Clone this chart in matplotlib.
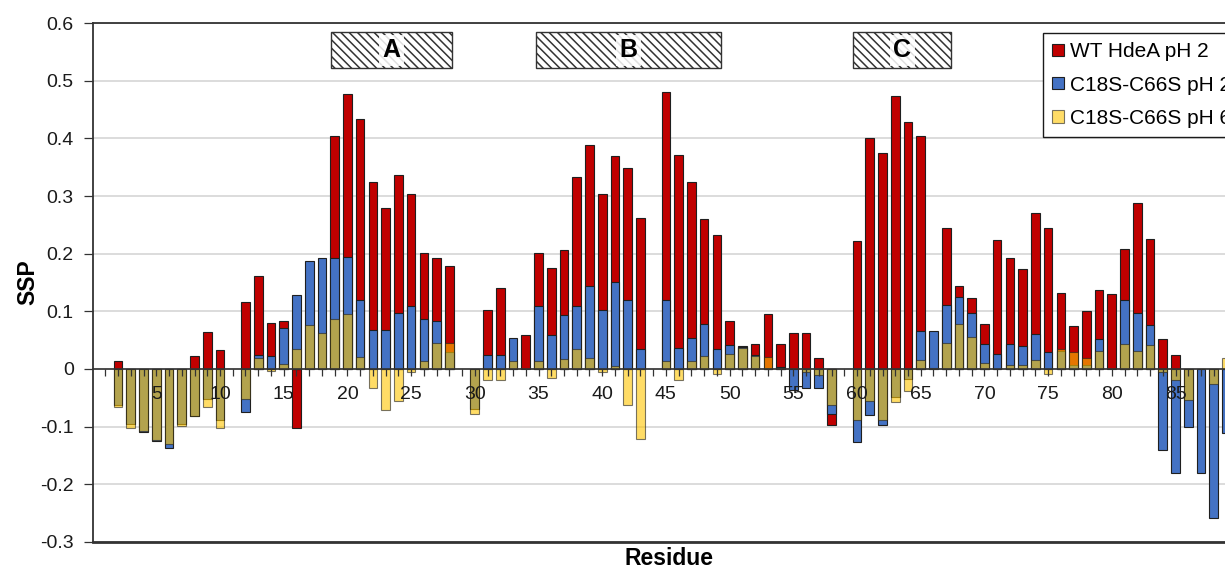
import numpy as np
import matplotlib
matplotlib.use('Agg')
import matplotlib.pyplot as plt
from matplotlib.patches import Rectangle

plt.rcParams['font.family'] = ['Liberation Sans', 'DejaVu Sans']
plt.rcParams['axes.unicode_minus'] = False
plt.rcParams['hatch.linewidth'] = 1.1

nan = np.nan
residues = np.arange(1, 90)

# WT HdeA pH 2
wt_ph2 = [nan, 0.013, nan, nan, nan, nan, nan, 0.0225, 0.064, 0.032,
          nan, 0.117, 0.162, 0.079, 0.083, -0.102, nan, nan, 0.4035, 0.4775,
          0.433, 0.325, 0.2785, 0.337, 0.3045, 0.2005, 0.1925, 0.1785, nan, nan,
          0.102, 0.1405, nan, 0.0595, 0.201, 0.175, 0.206, 0.334, 0.388, 0.304,
          0.369, 0.349, 0.262, nan, 0.4815, 0.3705, 0.324, 0.2595, 0.232, 0.084,
          0.039, 0.044, 0.096, 0.043, 0.062, 0.063, 0.019, -0.098, nan, 0.2214,
          0.401, 0.375, 0.473, 0.428, 0.405, nan, 0.245, 0.144, 0.1237, 0.0775,
          0.224, 0.192, 0.173, 0.2705, 0.2445, 0.1324, 0.074, 0.101, 0.1376, 0.1295,
          0.2075, 0.2884, 0.2254, 0.0514, 0.0249, nan, nan, nan, nan]

# C18S-C66S pH 2
mut_ph2 = [nan, -0.062, -0.0965, -0.110, -0.126, -0.137, -0.096, -0.082, -0.052, -0.089,
           nan, -0.075, 0.025, 0.0225, 0.071, 0.128, 0.188, 0.1925, 0.1925, 0.195,
           0.120, 0.067, 0.067, 0.0965, 0.110, 0.087, 0.084, 0.029, nan, -0.069,
           0.0237, 0.0237, 0.054, nan, 0.1087, 0.0595, 0.093, 0.110, 0.144, 0.1017,
           0.1514, 0.120, 0.0347, nan, 0.120, 0.037, 0.054, 0.0786, 0.0347, 0.042,
           0.038, 0.025, 0.001, 0.003, -0.037, -0.034, -0.034, -0.0775, nan, -0.1266,
           -0.080, -0.098, -0.048, -0.017, 0.065, 0.065, 0.111, 0.1254, 0.0965, 0.0434,
           0.0266, 0.044, 0.040, 0.061, 0.0295, 0.031, 0.006, 0.0075, 0.0526, nan,
           0.119, 0.0965, 0.077, -0.141, -0.1815, -0.1017, -0.1815, -0.2595, -0.112]

# C18S-C66S pH 6
mut_ph6 = [nan, -0.066, -0.102, -0.108, -0.124, -0.130, -0.099, -0.081, -0.066, -0.102,
           nan, -0.053, 0.019, -0.004, 0.009, 0.035, 0.077, 0.063, 0.086, 0.096,
           0.021, -0.034, -0.072, -0.0555, -0.006, 0.013, 0.045, 0.045, nan, -0.079,
           -0.0197, -0.0197, 0.013, nan, 0.0145, -0.0156, 0.018, 0.0347, 0.019, -0.005,
           0.0046, -0.062, -0.122, nan, 0.0145, -0.0197, 0.013, 0.0225, -0.009, 0.026,
           0.036, 0.0225, 0.021, 0.002, nan, -0.005, -0.010, -0.062, nan, -0.088,
           -0.056, -0.089, -0.058, -0.039, 0.016, 0.002, 0.045, 0.078, 0.055, 0.011,
           nan, 0.0064, 0.0064, 0.015, -0.008, 0.035, 0.0295, 0.019, 0.031, nan,
           0.044, 0.031, 0.041, -0.005, -0.0197, -0.054, nan, -0.027, 0.019]

series_names = ['WT HdeA pH 2', 'C18S-C66S pH 2', 'C18S-C66S pH 6']

helix_names = ['A', 'B', 'C']
helix_start = [18.7, 34.8, 59.7]
helix_end = [28.2, 49.3, 67.4]

fig = plt.figure(figsize=(12.25, 5.7), dpi=100)
ax = fig.add_axes([92.6 / 1225, 28.3 / 570, 1153 / 1225, 518.4 / 570])

edge = '#1f1f1f'
w = 0.68
ax.bar(residues, wt_ph2, width=w, color='#C00000', edgecolor=edge, linewidth=0.8,
       label=series_names[0], zorder=1)
ax.bar(residues, mut_ph2, width=w, color='#4472C4', edgecolor=edge, linewidth=0.8,
       label=series_names[1], zorder=1.1)
ax.bar(residues, mut_ph6, width=w, color='#FFC500', alpha=0.6, edgecolor=edge,
       linewidth=0.8, label=series_names[2], zorder=1.2)

ax.set_xlim(0, 90.5)
ax.set_ylim(-0.3, 0.6)
yt = np.round(np.arange(-0.3, 0.61, 0.1), 1)
ax.set_yticks(yt)
ax.set_yticklabels([f'{v:g}' for v in yt])
for v in yt:
    ax.axhline(v, color='#d9d9d9', lw=1.3, zorder=0)

ax.set_xticks(np.arange(5, 90, 5))
ax.set_xticks(residues, minor=True)
ax.spines['bottom'].set_position(('data', 0))
ax.spines['bottom'].set_color('#333333')
ax.spines['bottom'].set_linewidth(1.2)
ax.spines['right'].set_visible(False)
for s in ['top', 'left']:
    ax.spines[s].set_color('#333333')
    ax.spines[s].set_linewidth(1.3)
ax.axhline(-0.3, color='#333333', lw=2.0, clip_on=False, zorder=3)

ax.tick_params(axis='x', which='both', direction='out', length=5, width=0.9,
               color='#333333', labelsize=14, pad=7.5, labelcolor='#1a1a1a')
ax.tick_params(axis='y', direction='out', length=6.5, width=0.9,
               color='#333333', labelsize=14, pad=7, labelcolor='#1a1a1a')

ax.set_xlabel('Residue', fontsize=16.5, fontweight='bold')
ax.xaxis.set_label_coords(0.5, -0.033)
ax.xaxis.label.set_va('center')
ax.set_ylabel('SSP', fontsize=16.5, fontweight='bold')
ax.yaxis.set_label_coords(-0.056, 0.5)
ax.yaxis.label.set_va('center')

for name, x0, x1 in zip(helix_names, helix_start, helix_end):
    ax.add_patch(Rectangle((x0, 0.5218), x1 - x0, 0.0626, facecolor='white',
                           edgecolor='#333333', hatch='\\\\\\\\', lw=1.0, zorder=4))
    ax.text((x0 + x1) / 2, 0.553, name, ha='center', va='center', fontsize=18,
            fontweight='bold', zorder=5,
            bbox=dict(facecolor='white', alpha=0.85, edgecolor='none', pad=2.5))

leg = ax.legend(loc='upper left', bbox_to_anchor=(1043 / 1225, 1 - 33 / 570),
                bbox_transform=fig.transFigure, fontsize=15, frameon=True,
                fancybox=False, framealpha=1, edgecolor='#1a1a1a',
                borderpad=0.45, labelspacing=0.68, handlelength=0.55,
                handleheight=0.55, handletextpad=0.3, borderaxespad=0)
leg.get_frame().set_linewidth(1.0)
leg.set_zorder(6)

fig.savefig('out.png', dpi=100)
